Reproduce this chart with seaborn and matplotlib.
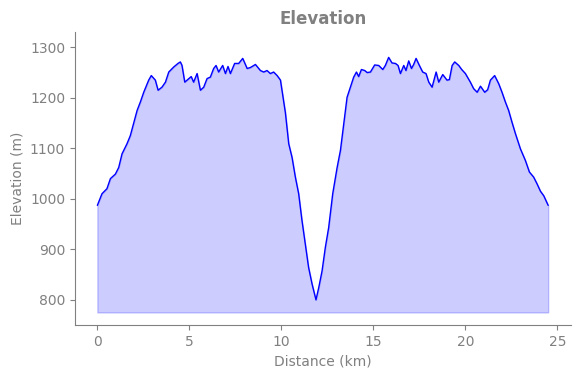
import pandas as pd
import seaborn as sns
import matplotlib.pyplot as plt

# Elevation profile
distance_km = [
    0.00, 0.25, 0.52, 0.71, 0.98, 1.16, 1.34, 1.61, 1.79, 1.97,
    2.16, 2.34, 2.52, 2.79, 2.93, 3.15, 3.30, 3.51, 3.70, 3.88,
    4.15, 4.38, 4.51, 4.60, 4.75, 4.97, 5.10, 5.23, 5.42, 5.60,
    5.78, 5.96, 6.14, 6.32, 6.45, 6.59, 6.81, 6.96, 7.10, 7.23,
    7.46, 7.68, 7.90, 8.14, 8.32, 8.59, 8.86, 9.04, 9.22, 9.40,
    9.58, 9.77, 9.95, 10.05, 10.22, 10.40, 10.58, 10.76, 10.94, 11.12,
    11.30, 11.48, 11.67, 11.88, 12.03, 12.21, 12.39, 12.57, 12.79, 13.03,
    13.21, 13.39, 13.57, 13.75, 13.93, 14.08, 14.20, 14.35, 14.53, 14.66,
    14.84, 15.07, 15.29, 15.51, 15.65, 15.83, 16.01, 16.20, 16.34, 16.47,
    16.65, 16.77, 16.92, 17.07, 17.19, 17.32, 17.50, 17.68, 17.86, 18.01,
    18.19, 18.41, 18.55, 18.77, 19.00, 19.13, 19.28, 19.42, 19.64, 19.80,
    20.00, 20.27, 20.45, 20.64, 20.82, 21.05, 21.21, 21.36, 21.59, 21.81,
    21.99, 22.17, 22.35, 22.53, 22.72, 22.99, 23.26, 23.48, 23.71, 23.89,
    24.08, 24.26, 24.50,
]
elevation_m = [
    987, 1010, 1020, 1040, 1049, 1062, 1089, 1109, 1125, 1149,
    1175, 1192, 1211, 1235, 1244, 1235, 1215, 1221, 1231, 1251,
    1261, 1268, 1271, 1264, 1231, 1238, 1242, 1231, 1248, 1215,
    1221, 1238, 1241, 1258, 1264, 1251, 1264, 1248, 1262, 1248,
    1268, 1268, 1278, 1258, 1260, 1266, 1254, 1251, 1254, 1248,
    1251, 1244, 1235, 1211, 1170, 1109, 1082, 1043, 1010, 957,
    910, 864, 831, 800, 824, 857, 904, 943, 1010, 1062,
    1096, 1149, 1201, 1221, 1241, 1251, 1242, 1256, 1254, 1250,
    1251, 1265, 1264, 1256, 1264, 1280, 1269, 1268, 1264, 1248,
    1264, 1254, 1273, 1258, 1266, 1278, 1264, 1251, 1248, 1231,
    1221, 1251, 1231, 1246, 1235, 1236, 1264, 1271, 1264, 1256,
    1248, 1231, 1218, 1211, 1223, 1211, 1216, 1235, 1244, 1228,
    1211, 1192, 1175, 1152, 1129, 1099, 1076, 1053, 1043, 1030,
    1015, 1006, 987,
]

df = pd.DataFrame({'distance': distance_km, 'elevation': elevation_m})

sns.set_style('ticks')
plt.rcParams['font.family'] = ['DejaVu Sans']
grey = 'grey'

fig, ax = plt.subplots(figsize=(5.8, 3.78), dpi=100)

base = df['elevation'].min() - 25
ax.fill_between(df['distance'], df['elevation'], base, color='blue', alpha=0.2)
sns.lineplot(data=df, x='distance', y='elevation', ax=ax, color='blue', linewidth=1)

ax.set_ylim(df['elevation'].min() - 50, df['elevation'].max() + 50)
ax.set_xticks([0, 5, 10, 15, 20, 25])

ax.set_title('Elevation', color=grey, fontweight='bold', fontsize=12)
ax.set_xlabel('Distance (km)', color=grey)
ax.set_ylabel('Elevation (m)', color=grey)
ax.tick_params(colors=grey)
for side in ['left', 'bottom']:
    ax.spines[side].set_color(grey)
sns.despine(ax=ax)

fig.subplots_adjust(left=0.129, right=0.984, top=0.915, bottom=0.14)
fig.savefig('out.png', dpi=100)
